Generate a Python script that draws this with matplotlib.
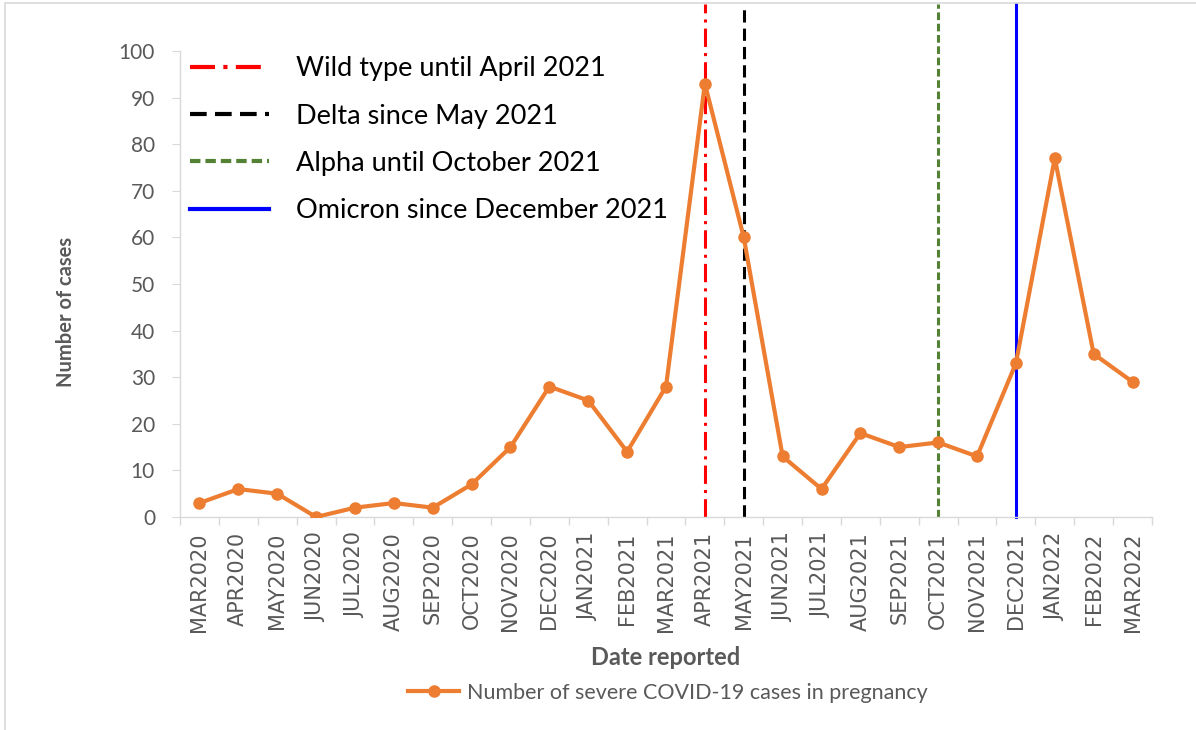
import numpy as np
import matplotlib
matplotlib.use("Agg")
import matplotlib.pyplot as plt
from matplotlib.lines import Line2D
from matplotlib.patches import Rectangle

plt.rcParams['font.family'] = ['Lato', 'DejaVu Sans']

months = ["MAR2020", "APR2020", "MAY2020", "JUN2020", "JUL2020", "AUG2020", "SEP2020",
          "OCT2020", "NOV2020", "DEC2020", "JAN2021", "FEB2021", "MAR2021", "APR2021",
          "MAY2021", "JUN2021", "JUL2021", "AUG2021", "SEP2021", "OCT2021", "NOV2021",
          "DEC2021", "JAN2022", "FEB2022", "MAR2022"]
cases = [3, 6, 5, 0, 2, 3, 2, 7, 15, 28, 25, 14, 28, 93, 60, 13, 6, 18, 15, 16, 13, 33, 77, 35, 29]

# variant markers
variant_months = ["APR2021", "MAY2021", "OCT2021", "DEC2021"]
variant_labels = ["Wild type until April 2021", "Delta since May 2021",
                  "Alpha until October 2021", "Omicron since December 2021"]
variant_colors = ["#FF0000", "#000000", "#548235", "#0000FF"]
variant_styles = [(0, (6, 2, 1, 2)), (0, (4, 2)), (0, (2.5, 1.2)), "-"]

orange = "#ED7D31"
grey = "#595959"
axis_grey = "#D9D9D9"

fig = plt.figure(figsize=(11.96, 7.30), dpi=100)
ax = fig.add_axes([180/1196, 1-517/730, 972/1196, 466/730])

x = np.arange(len(months))
ax.plot(x, cases, color=orange, lw=3, marker="o", ms=8, zorder=3,
        solid_joinstyle="round")

handles = []
for m, lab, c, ls in zip(variant_months, variant_labels, variant_colors, variant_styles):
    xi = months.index(m)
    ax.plot([xi, xi], [0, 110], color=c, lw=2.2, linestyle=ls, clip_on=False, zorder=2)
    handles.append(Line2D([0], [0], color=c, lw=3, linestyle=ls))

ax.set_xlim(-0.5, len(months) - 0.5)
ax.set_ylim(0, 100)
ax.set_yticks(range(0, 101, 10))
ax.set_xticks(x)
ax.set_xticklabels(months, rotation=90, fontsize=15, color=grey, family="DejaVu Sans")
ax.set_xticks(np.arange(-0.5, len(months), 1), minor=True)
ax.tick_params(axis="x", which="major", length=0, pad=11)
ax.tick_params(axis="x", which="minor", length=6, color=axis_grey, width=1)
ax.tick_params(axis="y", length=6, color=axis_grey, labelsize=15, labelcolor=grey, pad=12)

for s in ["top", "right"]:
    ax.spines[s].set_visible(False)
for s in ["left", "bottom"]:
    ax.spines[s].set_color(axis_grey)
    ax.spines[s].set_linewidth(1)

ax.set_ylabel("Number of cases", fontsize=14.5, fontweight="bold", color=grey)
ax.yaxis.set_label_coords(-0.107, 0.44)
ax.set_xlabel("Date reported", fontsize=17, fontweight="bold", color=grey, labelpad=10)

ax.legend(handles, variant_labels, loc="upper left", bbox_to_anchor=(-0.009, 1.029),
          frameon=False, fontsize=19.5, handlelength=2.9, handletextpad=1.0,
          labelspacing=0.82, borderaxespad=0.3)

series_handle = Line2D([0], [0], color=orange, lw=3, marker="o", ms=8)
fig.legend([series_handle], ["Number of severe COVID-19 cases in pregnancy"],
           loc="center", bbox_to_anchor=(668/1196, 1-693/730), frameon=False,
           fontsize=15.5, handlelength=2.4, handletextpad=0.37, labelcolor=grey)

fig.patches.append(Rectangle((5/1196, -0.01), 1.2, 1 - 3/730 + 0.01, transform=fig.transFigure,
                             fill=False, edgecolor=axis_grey, lw=1.2))

fig.savefig("out.png", dpi=100)
